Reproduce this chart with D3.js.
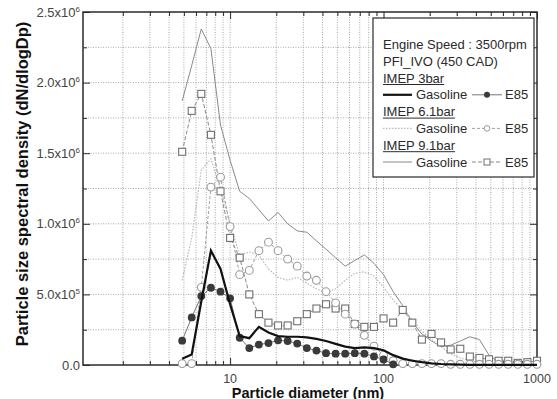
<!DOCTYPE html>
<html>
<head>
<meta charset="utf-8">
<script src="https://cdn.jsdelivr.net/npm/d3@7"></script>
<style>
  html, body { margin: 0; padding: 0; background: #fff; }
  svg { display: block; font-family: "Liberation Sans", Arial, sans-serif; }
</style>
</head>
<body>
<div id="chart"></div>
<script>
// SMPS bin mid-points (nm), 16 channels per decade
const diameters = [4.87, 5.62, 6.49, 7.50, 8.66, 10.0, 11.55, 13.34, 15.40, 17.78,
  20.54, 23.71, 27.38, 31.62, 36.52, 42.17, 48.70, 56.23, 64.94, 74.99,
  86.60, 100.0, 115.5, 133.4, 154.0, 177.8, 205.4, 237.1, 273.8, 316.2,
  365.2, 421.7, 487.0, 562.3, 649.4, 749.9, 866.0, 1000];

// dN/dlogDp, in units of 1e5
const gas3 = [0.45, 0.75, 4.5, 8.1, 6.8, 4.3, 2.05, 1.9, 2.7, 2.3,
  2.05, 2.0, 2.0, 1.95, 1.85, 1.7, 1.5, 1.3, 1.2, 1.25,
  1.2, 1.05, 0.7, 0.45, 0.3, 0.2, 0.12, 0.07, 0.04, 0.02,
  0.01, 0.01, 0.01, 0.01, 0.01, 0.01, 0.01, 0.01];
const e85_3 = [1.72, 3.37, 4.88, 5.47, 5.19, 4.72, 1.93, 1.2, 1.45, 1.55,
  1.75, 1.7, 1.52, 1.2, 1.02, 0.84, 0.8, 0.8, 0.84, 0.8,
  0.61, 0.39, 0.05];
const gas6 = [6.0, 9.0, 13.8, 14.6, 12.5, 10.0, 7.8, 8.0, 7.8, 6.8,
  6.2, 6.0, 6.2, 5.8, 5.4, 5.1, 5.4, 6.0, 6.5, 6.6,
  6.3, 5.5, 4.6, 3.9, 3.2, 2.4, 1.8, 1.3, 0.8, 0.5,
  0.3, 0.2, 0.1, 0.1, 0.1, 0.1, 0.1, 0.1];
const e85_6 = [0.1, 0.1, 5.5, 12.6, 13.3, 9.8, 6.4, 6.7, 8.1, 8.7,
  8.1, 7.5, 7.0, 6.3, 6.0, 5.2, 4.4, 3.6, 2.9, 2.1,
  1.33, 0.7, 0.3, 0.1, 0.1, 0.1, 0.1, 0.1, 0.05, 0.05,
  0.05, 0.05, 0.05, 0.05, 0.05, 0.05, 0.05, 0.05];
const gas9 = [18.7, 21.2, 23.8, 22.4, 17.0, 14.5, 12.3, 11.8, 11.0, 10.2,
  10.8, 10.0, 9.5, 9.4, 8.8, 8.2, 7.6, 7.0, 7.4, 7.8,
  7.2, 6.4, 5.2, 4.2, 3.0, 2.2, 1.7, 1.3, 1.4, 1.7,
  2.0, 1.8, 0.7, 0.2, 0.1, 0.05, 0.05, 0.05];
const e85_9 = [15.1, 18.0, 19.2, 16.3, 12.3, 9.0, 7.6, 5.0, 3.6, 3.0,
  2.8, 2.8, 3.1, 3.6, 4.0, 4.3, 4.0, 4.0, 2.9, 2.7,
  2.7, 3.3, 3.0, 3.9, 3.0, 1.8, 2.2, 1.6, 1.1, 1.15,
  0.6, 0.5, 0.4, 0.3, 0.3, 0.15, 0.2, 0.3];

const yMajor = [0, 5, 10, 15, 20, 25];
const yLabels = [["0.0", ""], ["5.0x10", "5"], ["1.0x10", "6"], ["1.5x10", "6"], ["2.0x10", "6"], ["2.5x10", "6"]];
const xMajor = [10, 100, 1000];
const xLabels = ["10", "100", "1000"];

const legendHead = ["Engine Speed : 3500rpm", "PFI_IVO (450 CAD)"];
const legendGroups = ["IMEP 3bar", "IMEP 6.1bar", "IMEP 9.1bar"];

const W = 557, H = 399;
const m = { left: 83, right: 537, top: 12, bottom: 365 };
const INK = "#2a2a2a";

const svg = d3.select("#chart").append("svg").attr("width", W).attr("height", H);

const x = d3.scaleLog().domain([1.1, 1000]).range([m.left, m.right]);
const y = d3.scaleLinear().domain([0, 25]).range([m.bottom, m.top]);

// minor positions: 2..9 per decade, half steps on y
const xMinor = [];
[1, 10, 100].forEach((dec) => { for (let i = 2; i <= 9; i++) xMinor.push(dec * i); });
const yMinor = d3.range(2.5, 25, 5);

// dotted grid
const grid = svg.append("g").attr("stroke", "#a8a8a8").attr("stroke-dasharray", "1,1.5").attr("stroke-width", 1);
grid.selectAll("line.v").data(xMinor.concat([10, 100])).join("line")
  .attr("x1", (d) => x(d)).attr("x2", (d) => x(d))
  .attr("y1", m.top).attr("y2", m.bottom);
grid.selectAll("line.h").data(d3.range(2.5, 25, 2.5)).join("line")
  .attr("x1", m.left).attr("x2", m.right)
  .attr("y1", (d) => y(d)).attr("y2", (d) => y(d));

// inward ticks on all four sides
function ticks(axis, vals, size, tr) {
  const g = svg.append("g").attr("transform", tr)
    .call(axis.tickValues(vals).tickSizeInner(-size).tickSizeOuter(0).tickFormat(""));
  g.select(".domain").remove();
  g.selectAll("line").attr("stroke", INK);
  return g;
}
ticks(d3.axisBottom(x), xMinor, 4, `translate(0,${m.bottom})`);
ticks(d3.axisBottom(x), xMajor, 7, `translate(0,${m.bottom})`);
ticks(d3.axisTop(x), xMinor, 4, `translate(0,${m.top})`);
ticks(d3.axisTop(x), xMajor, 7, `translate(0,${m.top})`);
ticks(d3.axisLeft(y), yMinor, 4, `translate(${m.left},0)`);
ticks(d3.axisLeft(y), yMajor, 7, `translate(${m.left},0)`);
ticks(d3.axisRight(y), yMinor, 4, `translate(${m.right},0)`);
ticks(d3.axisRight(y), yMajor, 7, `translate(${m.right},0)`);

// tick labels
svg.append("g").selectAll("text").data(xMajor).join("text")
  .attr("x", (d) => x(d)).attr("y", 382.5)
  .attr("text-anchor", "middle").attr("fill", "#444").style("font-size", "12.5px")
  .text((d, i) => xLabels[i]);

const yl = svg.append("g").selectAll("text").data(yMajor).join("text")
  .attr("x", 80).attr("y", (d) => y(d) + 4.5)
  .attr("text-anchor", "end").attr("fill", "#444").style("font-size", "13px");
yl.append("tspan").text((d, i) => yLabels[i][0]);
yl.append("tspan").attr("dy", -5).style("font-size", "8px").text((d, i) => yLabels[i][1]);

// frame
svg.append("rect").attr("x", m.left).attr("y", m.top)
  .attr("width", m.right - m.left).attr("height", m.bottom - m.top)
  .attr("fill", "none").attr("stroke", INK).attr("stroke-width", 1.5);

// axis titles
svg.append("text").attr("x", 308).attr("y", 397.5).attr("text-anchor", "middle")
  .attr("fill", "#111").style("font-size", "14.5px").style("font-weight", "bold")
  .text("Particle diameter (nm)");
svg.append("text").attr("transform", "translate(28,184) rotate(-90)")
  .attr("text-anchor", "middle").attr("fill", "#111")
  .style("font-size", "16.5px").style("font-weight", "bold")
  .text("Particle size spectral density (dN/dlogDp)");

// series
const plot = svg.append("g");
const line = d3.line().x((d, i) => x(diameters[i])).y((d) => y(d));

const styles = {
  gas9: { stroke: "#8a8a8a", width: 1, dash: null },
  e85_9: { stroke: "#8a8a8a", width: 1, dash: "4,2" },
  gas6: { stroke: "#b8b8b8", width: 1.2, dash: "1.5,1.5" },
  e85_6: { stroke: "#a0a0a0", width: 1, dash: "3,2" },
  e85_3: { stroke: "#777", width: 1, dash: null },
  gas3: { stroke: "#111", width: 2.2, dash: null },
};

function drawLine(data, s) {
  plot.append("path").datum(data).attr("d", line)
    .attr("fill", "none").attr("stroke", s.stroke).attr("stroke-width", s.width)
    .attr("stroke-dasharray", s.dash);
}

drawLine(gas9, styles.gas9);
drawLine(e85_9, styles.e85_9);
drawLine(gas6, styles.gas6);
drawLine(e85_6, styles.e85_6);

plot.append("g").selectAll("rect").data(e85_9).join("rect")
  .attr("x", (d, i) => x(diameters[i]) - 3.5).attr("y", (d) => y(d) - 3.5)
  .attr("width", 7).attr("height", 7)
  .attr("fill", "#fff").attr("stroke", "#707070").attr("stroke-width", 1.1);
plot.append("g").selectAll("circle").data(e85_6).join("circle")
  .attr("cx", (d, i) => x(diameters[i])).attr("cy", (d) => y(d)).attr("r", 3.9)
  .attr("fill", "#fff").attr("stroke", "#9a9a9a").attr("stroke-width", 1.1);

drawLine(e85_3, styles.e85_3);
plot.append("g").selectAll("circle").data(e85_3).join("circle")
  .attr("cx", (d, i) => x(diameters[i])).attr("cy", (d) => y(d)).attr("r", 3.9)
  .attr("fill", "#3a3a3a");
drawLine(gas3, styles.gas3);

// legend
const lg = svg.append("g").attr("fill", INK).style("font-size", "13px");
lg.append("rect").attr("x", 373).attr("y", 18).attr("width", 161).attr("height", 159)
  .attr("fill", "#fff").attr("stroke", INK).attr("stroke-width", 1.2);
legendHead.forEach((t, i) => {
  lg.append("text").attr("x", 383).attr("y", 49 + i * 16.8).text(t);
});
const rowStyles = [
  [styles.gas3, styles.e85_3, "dot"],
  [styles.gas6, styles.e85_6, "circle"],
  [styles.gas9, styles.e85_9, "square"],
];
legendGroups.forEach((t, i) => {
  const by = 82.5 + i * 33.6;
  const tx = lg.append("text").attr("x", 383).attr("y", by).text(t);
  const w = tx.node().getComputedTextLength();
  lg.append("line").attr("x1", 383).attr("x2", 383 + w).attr("y1", by + 2).attr("y2", by + 2)
    .attr("stroke", INK).attr("stroke-width", 1);
  const ry = by + 16.8;
  const [gs, es, mk] = rowStyles[i];
  lg.append("line").attr("x1", 383).attr("x2", 412).attr("y1", ry - 4.5).attr("y2", ry - 4.5)
    .attr("stroke", gs.stroke).attr("stroke-width", gs.width).attr("stroke-dasharray", gs.dash);
  lg.append("text").attr("x", 416).attr("y", ry).text("Gasoline");
  lg.append("line").attr("x1", 472).attr("x2", 502).attr("y1", ry - 4.5).attr("y2", ry - 4.5)
    .attr("stroke", es.stroke).attr("stroke-width", es.width).attr("stroke-dasharray", es.dash);
  if (mk === "dot") {
    lg.append("circle").attr("cx", 487).attr("cy", ry - 4.5).attr("r", 3).attr("fill", "#3a3a3a");
  } else if (mk === "circle") {
    lg.append("circle").attr("cx", 487).attr("cy", ry - 4.5).attr("r", 2.8)
      .attr("fill", "#fff").attr("stroke", "#9a9a9a");
  } else {
    lg.append("rect").attr("x", 484).attr("y", ry - 7.5).attr("width", 6).attr("height", 6)
      .attr("fill", "#fff").attr("stroke", "#707070");
  }
  lg.append("text").attr("x", 505).attr("y", ry).text("E85");
});
</script>
</body>
</html>
